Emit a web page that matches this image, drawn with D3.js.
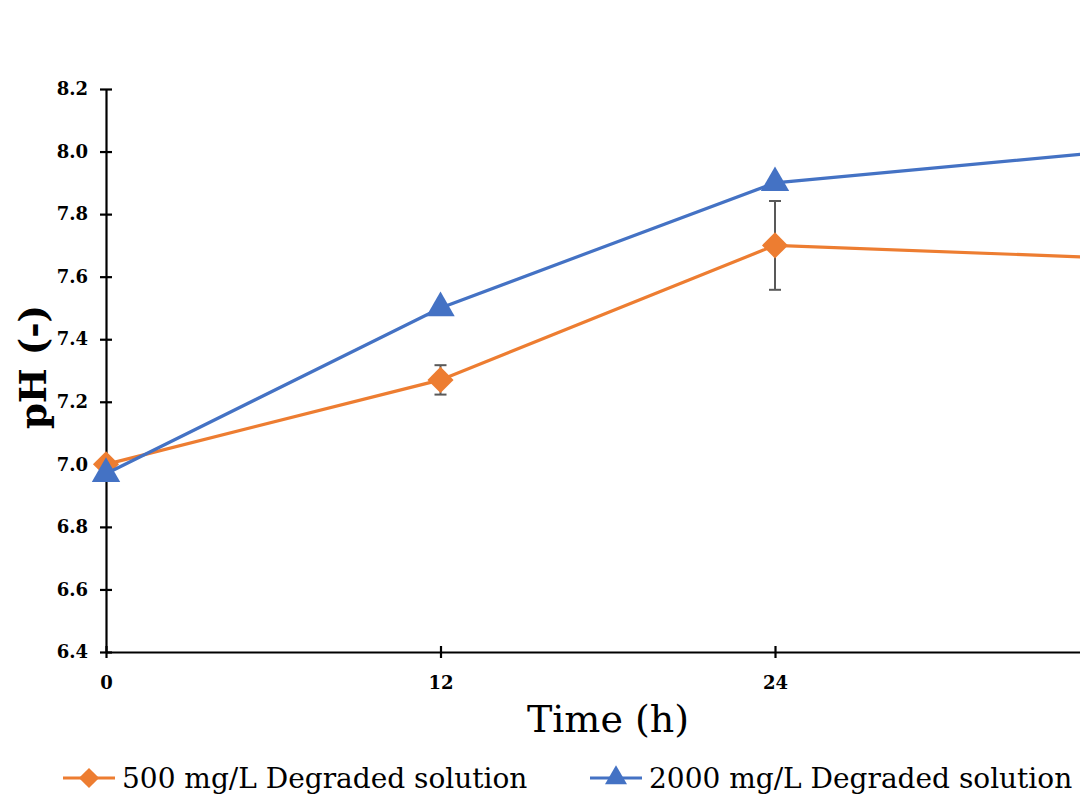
<!DOCTYPE html>
<html>
<head>
<meta charset="utf-8">
<script src="https://cdnjs.cloudflare.com/ajax/libs/d3/7.8.5/d3.min.js"></script>
<style>
  html, body { margin: 0; padding: 0; background: #fff; }
  text { font-family: "DejaVu Serif", "Liberation Serif", serif; }
</style>
</head>
<body>
<div id="chart"></div>
<script>
// pH chart

// data
const times = [0, 12, 24, 36];
const xTicks = [0, 12, 24];
const yTicks = [6.4, 6.6, 6.8, 7.0, 7.2, 7.4, 7.6, 7.8, 8.0, 8.2];
const seriesNames = ["500 mg/L Degraded solution", "2000 mg/L Degraded solution"];
const ph500 = [7.00, 7.27, 7.70, 7.66];
const err500 = [0, 0.047, 0.142, 0];
const ph2000 = [6.97, 7.50, 7.90, 8.00];
const err2000 = [0, 0, 0, 0];

const orange = "#ED7D31";
const blue = "#4472C4";

var W = 1080, H = 804;
var margin = { top: 89, left: 106, bottom: 152 };

var svg = d3
  .select("#chart")
  .append("svg")
  .attr("width", W)
  .attr("height", H);

// x axis runs past the right edge (36 h is cut off)
var x = d3.scaleLinear().domain([0, 36]).range([margin.left, margin.left + 3 * 334.5]);
var y = d3.scaleLinear().domain([6.4, 8.2]).range([H - margin.bottom, margin.top]);

////////////////////////////////
// Axes
var yAxis = svg
  .append("g")
  .attr("transform", "translate(" + margin.left + ",0)")
  .call(d3.axisLeft(y).tickValues(yTicks).tickFormat(d3.format(".1f")).tickSizeInner(6).tickSizeOuter(0));
yAxis.select(".domain").attr("stroke", "#000").attr("stroke-width", 2.2);
yAxis.selectAll(".tick line").attr("x2", 6).attr("x1", -6).attr("stroke-width", 2.2);
yAxis.selectAll(".tick text")
  .attr("x", -18)
  .style("font-size", "18px")
  .style("font-weight", "bold")
  .attr("fill", "#000");

var xAxis = svg
  .append("g")
  .attr("transform", "translate(0," + y(6.4) + ")")
  .call(d3.axisBottom(x).tickValues(xTicks).tickSizeInner(6).tickSizeOuter(0));
xAxis.select(".domain").attr("stroke", "#000").attr("stroke-width", 2.2);
xAxis.selectAll(".tick line").attr("y1", -6).attr("y2", 6).attr("stroke-width", 2.2);
xAxis.selectAll(".tick text")
  .attr("y", 24)
  .style("font-size", "18px")
  .style("font-weight", "bold")
  .attr("fill", "#000");

// axis titles
svg
  .append("text")
  .attr("x", 608)
  .attr("y", 732)
  .attr("text-anchor", "middle")
  .style("font-size", "38px")
  .text("Time (h)");

svg
  .append("text")
  .attr("transform", "translate(46," + 367 + ") rotate(-90)")
  .attr("text-anchor", "middle")
  .style("font-size", "37px")
  .style("font-weight", "bold")
  .text("pH (-)");

////////////////////////////////
// Series
var series = [
  { name: seriesNames[0], values: ph500, err: err500, color: orange, shape: d3.symbolSquare, rot: 45, size: 340 },
  { name: seriesNames[1], values: ph2000, err: err2000, color: blue, shape: d3.symbolTriangle, rot: 0, size: 350 },
];

var line = d3
  .line()
  .x(function (d) { return x(d.t); })
  .y(function (d) { return y(d.v); });

series.forEach(function (s) {
  var pts = times.map(function (t, i) {
    return { t: t, v: s.values[i], e: s.err[i] };
  });

  // error bars
  var eb = svg.append("g").attr("stroke", "#595959").attr("stroke-width", 2);
  pts.filter(function (d) { return d.e > 0; }).forEach(function (d) {
    eb.append("line")
      .attr("x1", x(d.t)).attr("x2", x(d.t))
      .attr("y1", y(d.v - d.e)).attr("y2", y(d.v + d.e));
    [d.v - d.e, d.v + d.e].forEach(function (v) {
      eb.append("line")
        .attr("x1", x(d.t) - 6).attr("x2", x(d.t) + 6)
        .attr("y1", y(v)).attr("y2", y(v));
    });
  });

  svg
    .append("path")
    .datum(pts)
    .attr("fill", "none")
    .attr("stroke", s.color)
    .attr("stroke-width", 3.2)
    .attr("d", line);

  svg
    .append("g")
    .selectAll("path")
    .data(pts)
    .enter()
    .append("path")
    .attr("transform", function (d) {
      return "translate(" + x(d.t) + "," + y(d.v) + ") rotate(" + s.rot + ")";
    })
    .attr("d", d3.symbol().type(s.shape).size(s.size))
    .attr("fill", s.color);
});

////////////////////////////////
// Legend
var legendPos = [63, 590];
series.forEach(function (s, i) {
  var g = svg.append("g").attr("transform", "translate(" + legendPos[i] + ",778)");
  g.append("line")
    .attr("x1", 0).attr("x2", 52)
    .attr("stroke", s.color)
    .attr("stroke-width", 3.2);
  g.append("path")
    .attr("transform", "translate(26,0) rotate(" + s.rot + ")")
    .attr("d", d3.symbol().type(s.shape).size(s.size * 0.6))
    .attr("fill", s.color);
  g.append("text")
    .attr("x", 59)
    .attr("y", 10)
    .style("font-size", "28px")
    .text(s.name);
});
</script>
</body>
</html>
